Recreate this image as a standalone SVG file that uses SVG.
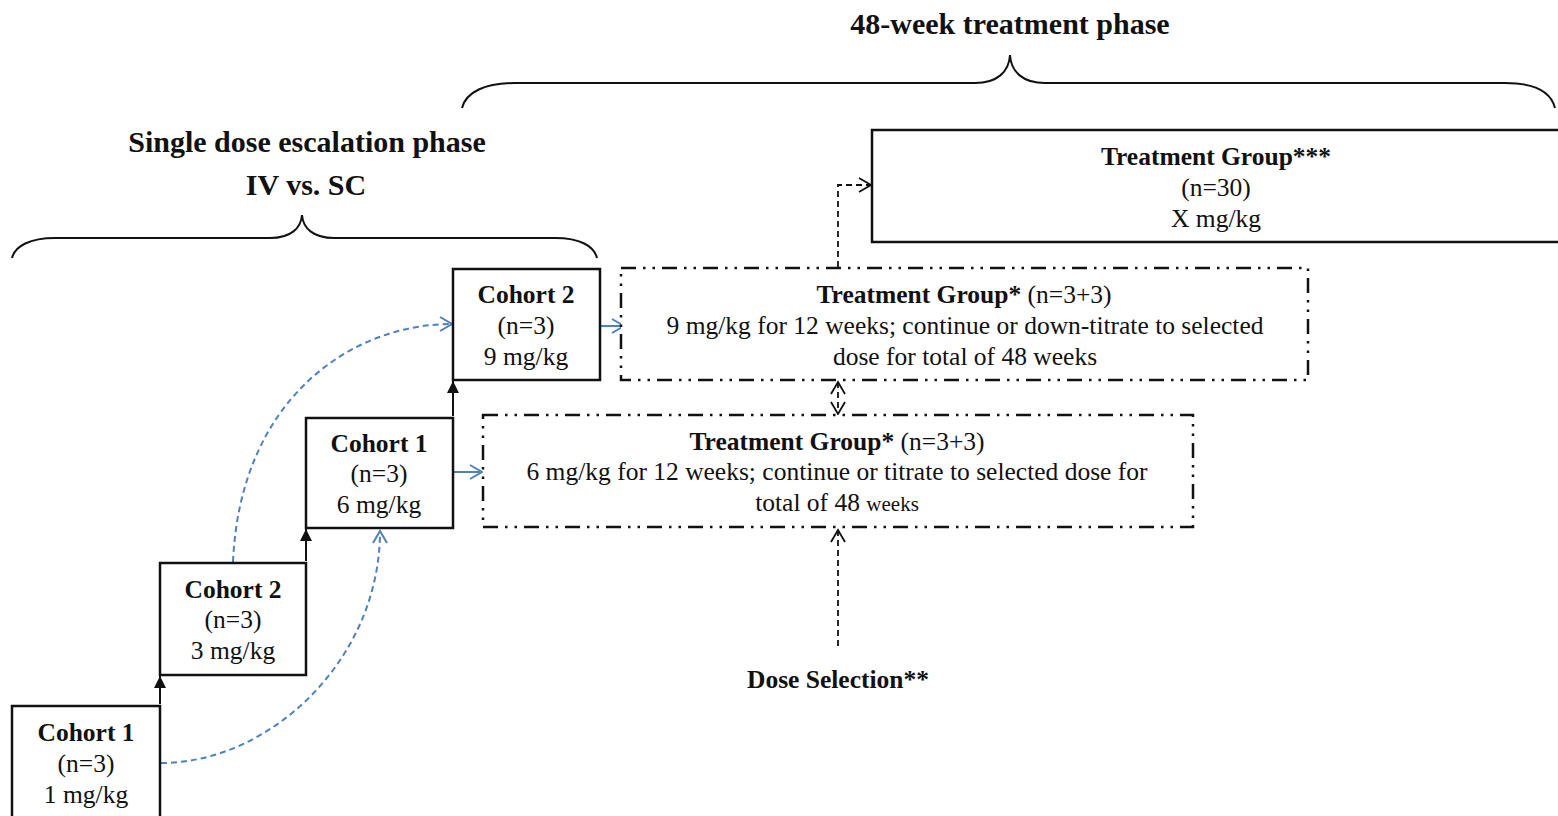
<svg xmlns="http://www.w3.org/2000/svg" width="1558" height="816" viewBox="0 0 1558 816">
<style>
text{font-family:"Liberation Serif","Times New Roman",serif;fill:#111;text-anchor:middle}
.t{font-size:30px;font-weight:bold}
.b{font-size:25.5px;font-weight:bold}
.r{font-size:25.5px}
.box{fill:#fff;stroke:#111;stroke-width:2.5}
.dd{fill:#fff;stroke:#111;stroke-width:2.5;stroke-dasharray:15 7 2.5 7 2.5 7}
.brace{fill:none;stroke:#111;stroke-width:2}
.blk{stroke:#111;stroke-width:2;fill:none}
.bd{stroke:#111;stroke-width:1.8;fill:none;stroke-dasharray:6 4}
.blue{stroke:#4f81bd;stroke-width:2;fill:none}
.blued{stroke:#4f81bd;stroke-width:2;fill:none;stroke-dasharray:6 4}
</style>
<defs>
<marker id="bo" markerUnits="userSpaceOnUse" markerWidth="18" markerHeight="18" refX="14" refY="9" orient="auto"><path d="M2,2 L14,9 L2,16" fill="none" stroke="#4f81bd" stroke-width="2"/></marker>
<marker id="kf" markerUnits="userSpaceOnUse" markerWidth="14" markerHeight="14" refX="12" refY="7" orient="auto"><path d="M0,1 L12,7 L0,13 Z" fill="#111"/></marker>
<marker id="ko" markerUnits="userSpaceOnUse" markerWidth="18" markerHeight="18" refX="14" refY="9" orient="auto-start-reverse"><path d="M2,2 L14,9 L2,16" fill="none" stroke="#111" stroke-width="1.8"/></marker>
</defs>
<rect width="1558" height="816" fill="#fff"/>

<g id="titles">
<text class="t" x="1010" y="34">48-week treatment phase</text>
<text class="t" x="307" y="152">Single dose escalation phase</text>
<text class="t" x="306" y="195">IV vs. SC</text>
<path class="brace" d="M462,108 C466,92 485,83 515,83 L975,83 C997,83 1009,72 1010,55 C1011,72 1023,83 1045,83 L1505,83 C1535,83 1551,92 1555,108"/>
<path class="brace" d="M12,258 C15,246 30,238 55,238 L270,238 C291,238 301,228 302,215 C303,228 313,238 334,238 L555,238 C580,238 594,246 597,258"/>
</g>

<g id="connectors">
<line class="blk" x1="160" y1="704" x2="160" y2="676" marker-end="url(#kf)"/>
<line class="blk" x1="306" y1="561" x2="306" y2="529" marker-end="url(#kf)"/>
<line class="blk" x1="453" y1="416" x2="453" y2="381" marker-end="url(#kf)"/>
<line class="blue" x1="601" y1="326" x2="624" y2="326" marker-end="url(#bo)"/>
<line class="blue" x1="454" y1="472" x2="482" y2="472" marker-end="url(#bo)"/>
<path class="blued" d="M161,763 C270,763 380,660 380,531" marker-end="url(#bo)"/>
<path class="blued" d="M233,562 C240,400 350,324 452,324" marker-end="url(#bo)"/>
<path class="bd" d="M838,267 L838,185 L871,185" marker-end="url(#ko)"/>
<line class="bd" x1="838" y1="382" x2="838" y2="414" marker-start="url(#ko)" marker-end="url(#ko)"/>
<line class="bd" x1="838" y1="646" x2="838" y2="530" marker-end="url(#ko)"/>
</g>

<g id="cohort1-1mg">
<rect class="box" x="12" y="706" width="148" height="130"/>
<text class="b" x="86" y="741">Cohort 1</text>
<text class="r" x="86" y="772">(n=3)</text>
<text class="r" x="86" y="803">1 mg/kg</text>
</g>
<g id="cohort2-3mg">
<rect class="box" x="160" y="563" width="146" height="112"/>
<text class="b" x="233" y="598">Cohort 2</text>
<text class="r" x="233" y="628">(n=3)</text>
<text class="r" x="233" y="659">3 mg/kg</text>
</g>
<g id="cohort1-6mg">
<rect class="box" x="306" y="418" width="147" height="110"/>
<text class="b" x="379" y="452">Cohort 1</text>
<text class="r" x="379" y="482">(n=3)</text>
<text class="r" x="379" y="513">6 mg/kg</text>
</g>
<g id="cohort2-9mg">
<rect class="box" x="453" y="269" width="147" height="111"/>
<text class="b" x="526" y="303">Cohort 2</text>
<text class="r" x="526" y="334">(n=3)</text>
<text class="r" x="526" y="365">9 mg/kg</text>
</g>

<g id="tg-9mg">
<rect class="dd" x="621" y="268" width="687" height="112"/>
<text x="964" y="303"><tspan class="b">Treatment Group*</tspan><tspan class="r"> (n=3+3)</tspan></text>
<text class="r" x="965" y="334">9 mg/kg for 12 weeks; continue or down-titrate to selected</text>
<text class="r" x="965" y="365">dose for total of 48 weeks</text>
</g>
<g id="tg-6mg">
<rect class="dd" x="483" y="415" width="710" height="112"/>
<text x="837" y="450"><tspan class="b">Treatment Group*</tspan><tspan class="r"> (n=3+3)</tspan></text>
<text class="r" x="837" y="480">6 mg/kg for 12 weeks; continue or titrate to selected dose for</text>
<text class="r" x="837" y="511">total of 48 <tspan style="font-size:21px">weeks</tspan></text>
</g>
<g id="tg-30">
<rect class="box" x="872" y="130" width="700" height="112"/>
<text class="b" x="1216" y="165">Treatment Group***</text>
<text class="r" x="1216" y="196">(n=30)</text>
<text class="r" x="1216" y="227">X mg/kg</text>
</g>
<g id="dose-selection">
<text class="b" x="838" y="688">Dose Selection**</text>
</g>
</svg>
